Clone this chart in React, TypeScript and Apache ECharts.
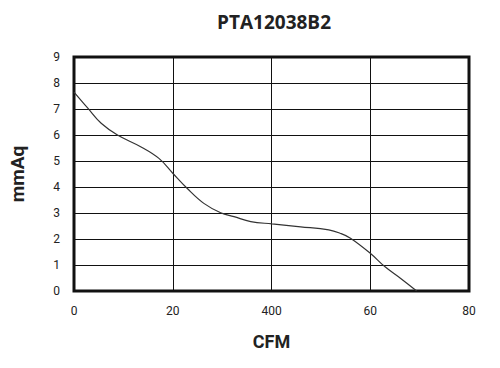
import React, { useEffect, useRef } from "react";
import * as echarts from "echarts";

const titleText = "PTA12038B2";
const xName = "CFM";
const yName = "mmAq";
const xTickLabels = ["0", "20", "400", "60", "80"];
const cfm = [0, 2.8, 5.5, 8.8, 13.5, 17.2, 20, 22.9, 26.3, 29.7, 32.4, 35.8, 40.1, 45.9, 51.6, 53.9, 56, 60, 63, 66.1, 69.4];
const pressure = [7.65, 7.03, 6.45, 6.0, 5.55, 5.1, 4.53, 3.95, 3.37, 3.01, 2.86, 2.67, 2.58, 2.47, 2.35, 2.22, 2.03, 1.45, 0.93, 0.49, 0];

export default function App() {
  const ref = useRef<HTMLDivElement>(null);
  useEffect(() => {
    if (!ref.current) return;
    const chart = echarts.init(ref.current, null, { renderer: "svg" });
    const font = "Roboto";
    chart.setOption({
      animation: false,
      backgroundColor: "#fff",
      title: {
        text: titleText,
        left: 269,
        textAlign: "center",
        top: 7,
        textStyle: { fontFamily: "Open Sans", fontWeight: "bold", fontSize: 19, color: "#222" },
      },
      grid: {
        left: 73,
        right: 31,
        top: 57,
        bottom: 77,
        show: true,
        borderColor: "#111",
        borderWidth: 3,
        backgroundColor: "transparent",
      },
      xAxis: {
        type: "value",
        min: 0,
        max: 80,
        interval: 20,
        name: xName,
        nameLocation: "middle",
        nameGap: 41,
        nameTextStyle: { fontFamily: font, fontWeight: "bold", fontSize: 18, color: "#222" },
        axisLine: { show: false },
        axisTick: { show: false },
        axisLabel: {
          margin: 14,
          fontFamily: font,
          fontSize: 12,
          color: "#222",
          formatter: (v: number) => xTickLabels[Math.round(v / 20)] ?? String(v),
        },
        splitLine: { show: true, lineStyle: { color: "#111", width: 1 } },
      },
      yAxis: {
        type: "value",
        min: 0,
        max: 9,
        interval: 1,
        name: yName,
        nameLocation: "middle",
        nameGap: 47,
        nameTextStyle: { fontFamily: font, fontWeight: "bold", fontSize: 19, color: "#222" },
        axisLine: { show: false },
        axisTick: { show: false },
        axisLabel: { margin: 14, fontFamily: font, fontSize: 12, color: "#222" },
        splitLine: { show: true, lineStyle: { color: "#111", width: 1 } },
      },
      series: [
        {
          type: "line",
          data: cfm.map((x, i) => [x, pressure[i]]),
          smooth: 0.4,
          showSymbol: false,
          lineStyle: { color: "#333", width: 1.2 },
        },
      ],
    });
    return () => chart.dispose();
  }, []);
  return <div ref={ref} style={{ width: 500, height: 368, position: "absolute", left: 0, top: 0 }} />;
}
